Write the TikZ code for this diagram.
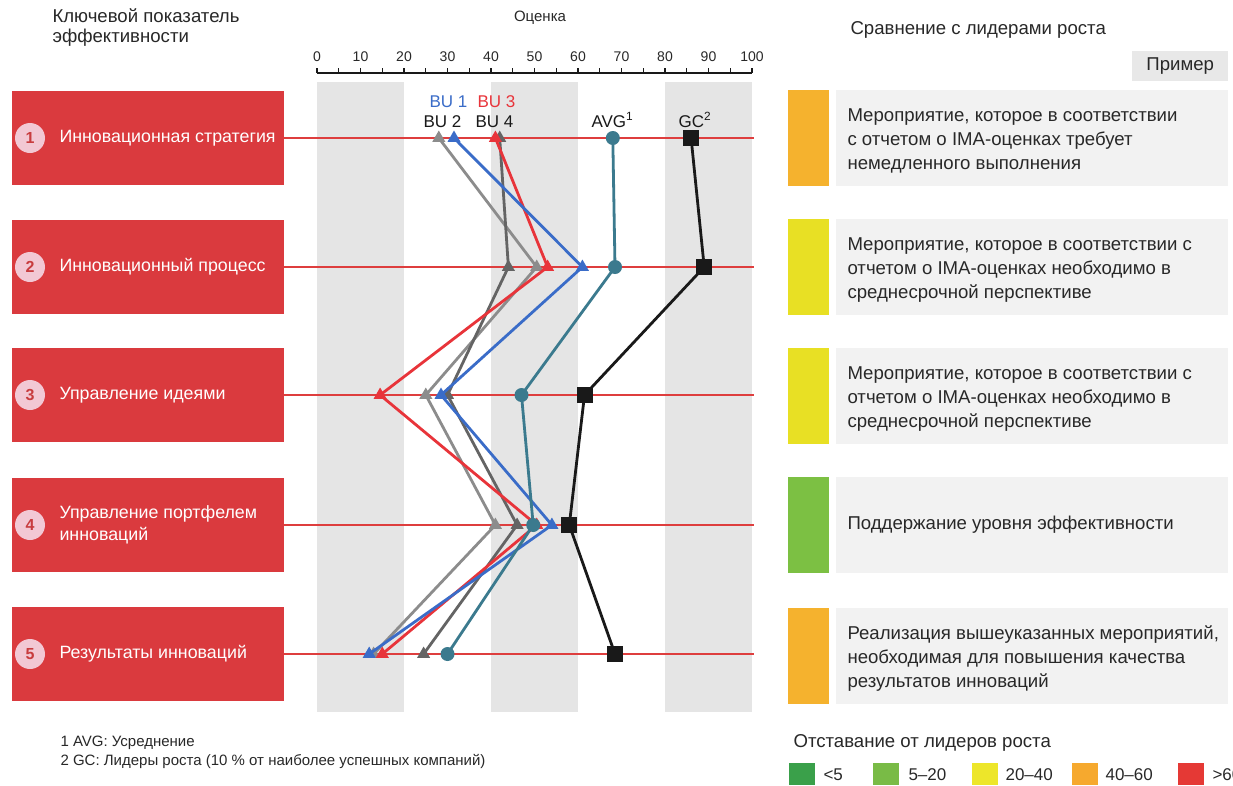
\documentclass[tikz,border=0pt]{standalone}
\usepackage{fontspec}
\setmainfont{Liberation Sans}
\usetikzlibrary{shapes.geometric}
\definecolor{kpired}{RGB}{218,58,62}
\definecolor{numpink}{RGB}{242,200,212}
\definecolor{numred}{RGB}{200,60,62}
\definecolor{bandgrey}{RGB}{229,229,229}
\definecolor{rowred}{RGB}{222,62,62}
\definecolor{bublue}{RGB}{58,108,200}
\definecolor{bured}{RGB}{232,52,58}
\definecolor{bulgrey}{RGB}{140,140,140}
\definecolor{budgrey}{RGB}{100,100,100}
\definecolor{avgteal}{RGB}{59,122,142}
\definecolor{gcblack}{RGB}{25,25,25}
\definecolor{panelgrey}{RGB}{242,242,242}
\definecolor{exgrey}{RGB}{232,232,232}
\definecolor{barorange}{RGB}{245,178,46}
\definecolor{baryellow}{RGB}{232,224,36}
\definecolor{bargreen}{RGB}{124,192,67}
\definecolor{lgdgreen}{RGB}{58,160,74}
\definecolor{lglgreen}{RGB}{121,187,70}
\definecolor{lgyellow}{RGB}{237,230,42}
\definecolor{lgorange}{RGB}{246,169,46}
\definecolor{lgred}{RGB}{229,57,53}
\definecolor{txtgrey}{RGB}{40,40,40}
\tikzset{
  kpibox/.style={fill=kpired, minimum width=272pt, minimum height=94pt, inner sep=0pt, anchor=west},
  numcirc/.style={circle, fill=numpink, minimum size=30pt, inner sep=0pt, text=numred, font=\fontsize{16}{16}\selectfont\bfseries},
  kpilabel/.style={anchor=west, text=white, align=left, font=\fontsize{17.8}{22}\selectfont},
  rowline/.style={draw=rowred, line width=1.3pt},
  band/.style={fill=bandgrey},
  ser/.style={line width=2.8pt, line join=round, draw=#1},
  tri/.style={regular polygon, regular polygon sides=3, minimum size=15pt, inner sep=0pt, fill=#1},
  avgdot/.style={circle, fill=avgteal, minimum size=14pt, inner sep=0pt},
  gcsq/.style={rectangle, fill=gcblack, minimum size=16pt, inner sep=0pt},
  bar/.style={minimum width=41pt, minimum height=96pt, inner sep=0pt, anchor=west},
  panel/.style={fill=panelgrey, minimum width=392pt, minimum height=96pt, inner sep=0pt, anchor=west},
  paneltext/.style={anchor=west, align=left, text=txtgrey, font=\fontsize{18.6}{24}\selectfont},
  hdr/.style={anchor=west, align=left, text=txtgrey, font=\fontsize{18.6}{20}\selectfont},
  swatch/.style={minimum width=26pt, minimum height=22pt, inner sep=0pt, anchor=north west},
  lgtext/.style={anchor=west, text=txtgrey, font=\fontsize{17}{17}\selectfont},
  serlabel/.style={anchor=west, font=\fontsize{17}{17}\selectfont},
}
\begin{document}
\begin{tikzpicture}[x=1pt,y=-1pt]
\clip (0,0) rectangle (1233,785);
\fill[white] (0,0) rectangle (1233,785);

% headers
\node[hdr] (h1) at (49,28) {Ключевой показатель\\эффективности};
\node[hdr, anchor=center, font=\fontsize{15}{15}\selectfont] (h2) at (540,18) {Оценка};
\node[hdr] (h3) at (847,30) {Сравнение с лидерами роста};
\node[fill=exgrey, minimum width=96pt, minimum height=30pt, inner sep=0pt, anchor=west, text=txtgrey, font=\fontsize{18.6}{18}\selectfont] (ex) at (1132,66) {Пример};

% bands
\fill[band] (317,82) rectangle (404,712);
\fill[band] (491,82) rectangle (578,712);
\fill[band] (665,82) rectangle (752,712);

% axis
\draw[line width=2pt, gcblack] (317,73) -- (752,73);
\foreach \i in {0,...,20} \draw[line width=1.2pt, gcblack] (317+21.75*\i,73) -- ++(0,-5);
\foreach \v in {0,10,...,100} \node[font=\fontsize{14}{14}\selectfont, text=txtgrey] at (317+4.35*\v,57) {\v};

% KPI boxes
\node[kpibox] (k1) at (12,138) {};
\node[kpibox] (k2) at (12,267) {};
\node[kpibox] (k3) at (12,395) {};
\node[kpibox] (k4) at (12,525) {};
\node[kpibox] (k5) at (12,654) {};
\node[numcirc] (n1) at (30,138) {1};
\node[numcirc] (n2) at (30,267) {2};
\node[numcirc] (n3) at (30,395) {3};
\node[numcirc] (n4) at (30,525) {4};
\node[numcirc] (n5) at (30,654) {5};
\node[kpilabel] (l1) at (56,138) {Инновационная стратегия};
\node[kpilabel] (l2) at (56,267) {Инновационный процесс};
\node[kpilabel] (l3) at (56,395) {Управление идеями};
\node[kpilabel] (l4) at (56,525) {Управление портфелем\\инноваций};
\node[kpilabel] (l5) at (56,654) {Результаты инноваций};

% row lines
\coordinate (e1) at (754,138);
\coordinate (e2) at (754,267);
\coordinate (e3) at (754,395);
\coordinate (e4) at (754,525);
\coordinate (e5) at (754,654);
\draw[rowline] (k1.east) -- (e1);
\draw[rowline] (k2.east) -- (e2);
\draw[rowline] (k3.east) -- (e3);
\draw[rowline] (k4.east) -- (e4);
\draw[rowline] (k5.east) -- (e5);

% data coordinates
\coordinate (b2-1) at (438.8,138); \coordinate (b2-2) at (536.7,267); \coordinate (b2-3) at (425.8,395); \coordinate (b2-4) at (495.4,525); \coordinate (b2-5) at (373.6,654);
\coordinate (b4-1) at (499.7,138); \coordinate (b4-2) at (508.4,267); \coordinate (b4-3) at (447.5,395); \coordinate (b4-4) at (517.1,525); \coordinate (b4-5) at (423.6,654);
\coordinate (b3-1) at (495.4,138); \coordinate (b3-2) at (547.6,267); \coordinate (b3-3) at (380.1,395); \coordinate (b3-4) at (536.7,525); \coordinate (b3-5) at (382.3,654);
\coordinate (b1-1) at (454.0,138); \coordinate (b1-2) at (582.4,267); \coordinate (b1-3) at (441.0,395); \coordinate (b1-4) at (551.9,525); \coordinate (b1-5) at (369.2,654);
\coordinate (av-1) at (612.8,138); \coordinate (av-2) at (615.0,267); \coordinate (av-3) at (521.5,395); \coordinate (av-4) at (533.2,525); \coordinate (av-5) at (447.5,654);
\coordinate (gc-1) at (691.1,138); \coordinate (gc-2) at (704.2,267); \coordinate (gc-3) at (584.5,395); \coordinate (gc-4) at (569.3,525); \coordinate (gc-5) at (615.0,654);

% series
\draw[ser=bulgrey] (b2-1) -- (b2-2) -- (b2-3) -- (b2-4) -- (b2-5);
\foreach \r in {1,...,5} \node[tri=bulgrey] at (b2-\r) {};
\draw[ser=budgrey] (b4-1) -- (b4-2) -- (b4-3) -- (b4-4) -- (b4-5);
\foreach \r in {1,...,5} \node[tri=budgrey] at (b4-\r) {};
\draw[ser=bured] (b3-1) -- (b3-2) -- (b3-3) -- (b3-4) -- (b3-5);
\foreach \r in {1,...,5} \node[tri=bured] at (b3-\r) {};
\draw[ser=bublue] (b1-1) -- (b1-2) -- (b1-3) -- (b1-4) -- (b1-5);
\foreach \r in {1,...,5} \node[tri=bublue] at (b1-\r) {};
\draw[ser=avgteal] (av-1) -- (av-2) -- (av-3) -- (av-4) -- (av-5);
\foreach \r in {1,...,5} \node[avgdot] at (av-\r) {};
\draw[ser=gcblack] (gc-1) -- (gc-2) -- (gc-3) -- (gc-4) -- (gc-5);
\foreach \r in {1,...,5} \node[gcsq] at (gc-\r) {};

% series labels
\node[serlabel, text=bublue] (lb1) at (426,102) {BU 1};
\node[serlabel, text=bured] (lb3) at (474,102) {BU 3};
\node[serlabel, text=gcblack] (lb2) at (420,122) {BU 2};
\node[serlabel, text=gcblack] (lb4) at (472,122) {BU 4};
\node[serlabel, text=gcblack] (lav) at (588,120) {AVG\textsuperscript{1}};
\node[serlabel, text=gcblack] (lgc) at (675,120) {GC\textsuperscript{2}};

% right panels
\node[panel] (p1) at (836,138) {};
\node[panel] (p2) at (836,267) {};
\node[panel] (p3) at (836,396) {};
\node[panel] (p4) at (836,525) {};
\node[panel] (p5) at (836,656) {};
\node[bar, fill=barorange] (r1) at (788,138) {};
\node[bar, fill=baryellow] (r2) at (788,267) {};
\node[bar, fill=baryellow] (r3) at (788,396) {};
\node[bar, fill=bargreen] (r4) at (788,525) {};
\node[bar, fill=barorange] (r5) at (788,656) {};
\node[paneltext] (t1) at (844,141) {Мероприятие, которое в соответствии\\с отчетом о IMA-оценках требует\\немедленного выполнения};
\node[paneltext] (t2) at (844,270) {Мероприятие, которое в соответствии с\\отчетом о IMA-оценках необходимо в\\среднесрочной перспективе};
\node[paneltext] (t3) at (844,399) {Мероприятие, которое в соответствии с\\отчетом о IMA-оценках необходимо в\\среднесрочной перспективе};
\node[paneltext] (t4) at (844,525) {Поддержание уровня эффективности};
\node[paneltext] (t5) at (844,659) {Реализация вышеуказанных мероприятий,\\необходимая для повышения качества\\результатов инноваций};

% footnotes
\node[anchor=west, text=txtgrey, font=\fontsize{15}{19}\selectfont, align=left] (fn) at (57,752) {1 AVG: Усреднение\\2 GC: Лидеры роста (10 \% от наиболее успешных компаний)};

% legend
\node[lgtext, font=\fontsize{18.6}{18}\selectfont] (lgt) at (790,743) {Отставание от лидеров роста};
\node[swatch, fill=lgdgreen] (s1) at (789,763) {};
\node[lgtext] (s1t) at (820,775) {<5};
\node[swatch, fill=lglgreen] (s2) at (873,763) {};
\node[lgtext] (s2t) at (905,775) {5–20};
\node[swatch, fill=lgyellow] (s3) at (972,763) {};
\node[lgtext] (s3t) at (1002,775) {20–40};
\node[swatch, fill=lgorange] (s4) at (1072,763) {};
\node[lgtext] (s4t) at (1102,775) {40–60};
\node[swatch, fill=lgred] (s5) at (1178,763) {};
\node[lgtext] (s5t) at (1209,775) {>60};
\end{tikzpicture}
\end{document}
